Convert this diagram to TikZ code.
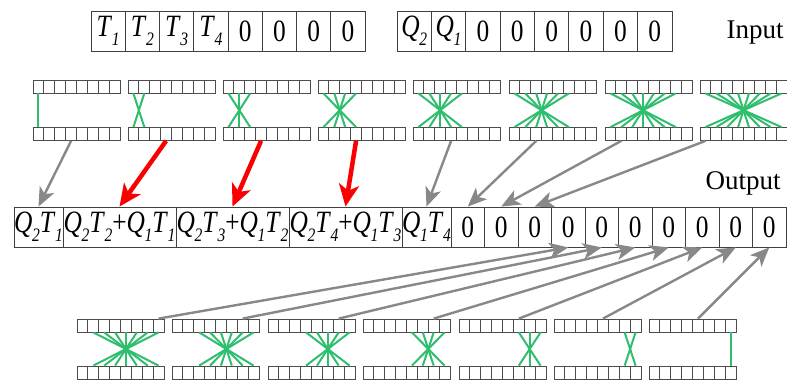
\documentclass[tikz,border=0pt]{standalone}
\usepackage{fontspec}
\setmainfont{Liberation Serif}
\usetikzlibrary{arrows.meta}
\definecolor{grn}{RGB}{46,190,110}
\definecolor{arrgray}{RGB}{136,136,136}
\definecolor{arrred}{RGB}{250,0,0}
\newcommand{\vv}[2]{\textit{#1}\kern-0.5pt\raisebox{-0.3em}{\fontsize{19}{19}\selectfont\textit{#2}}}
\newcommand{\sq}[1]{\scalebox{0.82}[1]{#1}}
\tikzset{
  bigcell/.style={draw=black!75, line width=0.9pt, minimum height=40pt, inner sep=0pt,
    font=\fontsize{31}{32}\selectfont},
  smallcell/.style={draw=black!70, line width=0.8pt, minimum width=10.875pt, minimum height=13pt, inner sep=0pt},
  greenline/.style={draw=grn, line width=2pt},
  grayarrow/.style={draw=arrgray, line width=2.4pt, -{Stealth[length=19pt,width=16pt,inset=5pt]}},
  redarrow/.style={draw=arrred, line width=4.5pt, -{Stealth[length=22pt,width=20pt,inset=6pt]}},
  label/.style={font=\fontsize{27}{30}\selectfont, inner sep=0pt}
}
\begin{document}
\begin{tikzpicture}[x=1pt,y=-1pt]
\useasboundingbox (0,0) rectangle (787,380);
% input rows
\foreach \t [count=\i] in {\vv{T}{1},\vv{T}{2},\vv{T}{3},\vv{T}{4},0,0,0,0}
  \node[bigcell, minimum width=34.25pt] (ina\i) at ({91+34.25*(\i-0.5)},31) {\sq{\t}};
\foreach \t [count=\i] in {\vv{Q}{2},\vv{Q}{1},0,0,0,0,0,0}
  \node[bigcell, minimum width=34.375pt] (inb\i) at ({397+34.375*(\i-0.5)},31) {\sq{\t}};
\node[label] (inputlbl) at (755,33) {Input};
\node[label] (outputlbl) at (743,183) {Output};
% output row
\node[bigcell, minimum width=49pt] (out1) at (38.5,227) {\sq{\vv{Q}{2}\vv{T}{1}}};
\node[bigcell, minimum width=113pt] (out2) at (119.5,227) {\sq{\vv{Q}{2}\vv{T}{2}+\vv{Q}{1}\vv{T}{1}}};
\node[bigcell, minimum width=113pt] (out3) at (232.5,227) {\sq{\vv{Q}{2}\vv{T}{3}+\vv{Q}{1}\vv{T}{2}}};
\node[bigcell, minimum width=113pt] (out4) at (345.5,227) {\sq{\vv{Q}{2}\vv{T}{4}+\vv{Q}{1}\vv{T}{3}}};
\node[bigcell, minimum width=49pt] (out5) at (426.5,227) {\sq{\vv{Q}{1}\vv{T}{4}}};
\foreach \k in {6,...,15}
  \node[bigcell, minimum width=33.5pt] (out\k) at ({451+33.5*(\k-5.5)},227) {\sq{0}};
% upper pairs
\foreach \p/\x in {1/33,2/128,3/223,4/318,5/413,6/509,7/605,8/700} {
  \foreach \c in {1,...,8} {
    \node[smallcell] (u\p t\c) at ({\x+10.875*(\c-0.5)},86.5) {};
    \node[smallcell] (u\p b\c) at ({\x+10.875*(\c-0.5)},134) {};
  }
  \foreach \c in {1,...,\p} {
    \pgfmathtruncatemacro\d{\p+1-\c}
    \draw[greenline] (u\p t\c.south) -- (u\p b\d.north);
  }
}
% lower pairs
\foreach \p/\x in {1/77,2/172,3/268,4/363,5/459,6/554,7/649} {
  \foreach \c in {1,...,8} {
    \node[smallcell] (v\p t\c) at ({\x+10.875*(\c-0.5)},325.5) {};
    \node[smallcell] (v\p b\c) at ({\x+10.875*(\c-0.5)},372.5) {};
  }
  \pgfmathtruncatemacro\s{\p+1}
  \foreach \c in {\s,...,8} {
    \pgfmathtruncatemacro\d{9+\p-\c}
    \draw[greenline] (v\p t\c.south) -- (v\p b\d.north);
  }
}
% arrows from upper pairs
\draw[grayarrow] (u1b4.south) -- (out1.north);
\draw[redarrow] (u2b4.south) -- (out2.north);
\draw[redarrow] (u3b4.south) -- (out3.north);
\draw[redarrow] (u4b4.south) -- (out4.north);
\draw[grayarrow] (u5b4.south) -- (out5.north);
\draw[grayarrow] (u6b3.south) -- (out6.north);
\draw[grayarrow] (u7b2.south) -- (out7.north);
\draw[grayarrow] (u8b1.south) -- (out8.north);
% arrows from lower pairs
\draw[grayarrow] (v1t8.north) -- (out9.south);
\draw[grayarrow] (v2t7.north) -- (out10.south);
\draw[grayarrow] (v3t7.north) -- (out11.south);
\draw[grayarrow] (v4t7.north) -- (out12.south);
\draw[grayarrow] (v5t6.north) -- (out13.south);
\draw[grayarrow] (v6t5.north) -- (out14.south);
\draw[grayarrow] (v7t5.north) -- (out15.south);
\end{tikzpicture}
\end{document}
